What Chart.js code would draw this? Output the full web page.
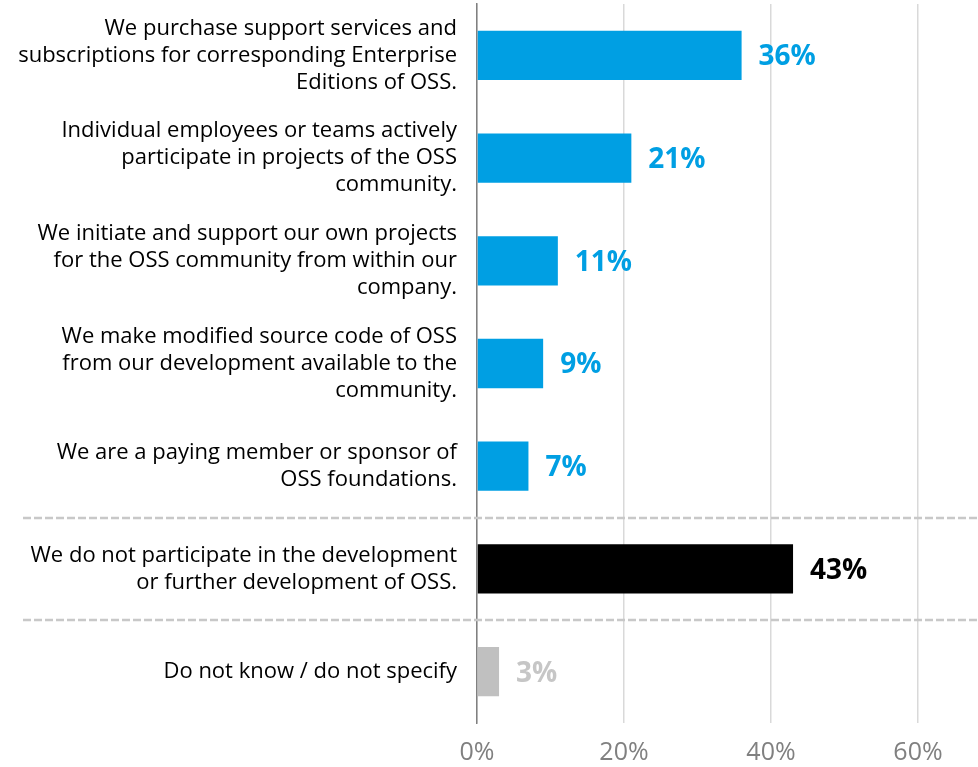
<!DOCTYPE html>
<html lang="en">

<head>
  <meta charset="UTF-8" />
  <title>OSS participation</title>
  <script src="https://cdn.jsdelivr.net/npm/chart.js"></script>
  <style>
    html, body { margin: 0; padding: 0; background: #fff; }
    .grafico { position: relative; width: 978px; height: 767px; }
  </style>
</head>

<body>
  <div class="grafico">
    <canvas id="graficoOss"></canvas>
  </div>

<script>
  // dados
  const categorias = [
    ['We purchase support services and', 'subscriptions for corresponding Enterprise', 'Editions of OSS.'],
    ['Individual employees or teams actively', 'participate in projects of the OSS', 'community.'],
    ['We initiate and support our own projects', 'for the OSS community from within our', 'company.'],
    ['We make modified source code of OSS', 'from our development available to the', 'community.'],
    ['We are a paying member or sponsor of', 'OSS foundations.'],
    ['We do not participate in the development', 'or further development of OSS.'],
    ['Do not know / do not specify']
  ];
  const valores = [36, 21, 11, 9, 7, 43, 3];
  const ticksX = [0, 20, 40, 60];

  // cores por barra
  const coresBarras = ['#009fe3', '#009fe3', '#009fe3', '#009fe3', '#009fe3', '#000000', '#c0c0c0'];
  const coresRotulos = ['#009fe3', '#009fe3', '#009fe3', '#009fe3', '#009fe3', '#000000', '#c6c6c6'];

  const FONTE = "'Open Sans', sans-serif";

  // rótulos de valor à direita das barras
  const rotulosValor = {
    id: 'rotulosValor',
    afterDatasetsDraw(chart) {
      const ctx = chart.ctx;
      const meta = chart.getDatasetMeta(0);
      ctx.save();
      ctx.font = 'bold 28px ' + FONTE;
      ctx.textBaseline = 'middle';
      ctx.textAlign = 'left';
      meta.data.forEach((barra, i) => {
        ctx.fillStyle = coresRotulos[i];
        ctx.fillText(valores[i] + '%', barra.x + 17, barra.y + 2);
      });
      ctx.restore();
    }
  };

  // linhas tracejadas separando os grupos
  const separadores = {
    id: 'separadores',
    afterDraw(chart) {
      const ctx = chart.ctx;
      const y = chart.scales.y;
      const passo = (y.bottom - y.top) / categorias.length;
      ctx.save();
      ctx.strokeStyle = '#c8c8c8';
      ctx.lineWidth = 2.5;
      ctx.setLineDash([8, 3]);
      [5, 6].forEach(k => {
        const py = Math.round(y.top + passo * k);
        ctx.beginPath();
        ctx.moveTo(23, py);
        ctx.lineTo(chart.width, py);
        ctx.stroke();
      });
      ctx.restore();
    }
  };

  const config = {
    type: 'bar',
    data: {
      labels: categorias,
      datasets: [{
        data: valores,
        backgroundColor: coresBarras,
        borderWidth: 0,
        categoryPercentage: 1,
        barPercentage: 0.48
      }]
    },
    options: {
      indexAxis: 'y',
      responsive: true,
      maintainAspectRatio: false,
      animation: false,
      layout: { padding: { top: 4, right: 60, left: 0, bottom: 0 } },
      plugins: {
        legend: { display: false },
        tooltip: { enabled: false }
      },
      scales: {
        x: {
          min: 0,
          max: 60,
          afterBuildTicks(scale) {
            scale.ticks = ticksX.map(v => ({ value: v }));
          },
          afterFit(scale) {
            scale.height = 44;
            scale.paddingLeft = 0;
            scale.paddingRight = 0;
          },
          grid: { color: '#d9d9d9', lineWidth: 1.5, drawTicks: false },
          border: { display: false },
          ticks: {
            padding: 15,
            color: '#808080',
            font: { family: FONTE, size: 25 },
            callback: v => v + '%'
          }
        },
        y: {
          afterFit(scale) {
            scale.width = 477;
            scale.paddingTop = 0;
            scale.paddingBottom = 0;
          },
          grid: { display: false, drawTicks: false },
          border: { color: '#808080', width: 1.5 },
          ticks: {
            padding: 20,
            color: '#000000',
            font: { family: FONTE, size: 22, lineHeight: 1.23 }
          }
        }
      }
    },
    plugins: [rotulosValor, separadores]
  };

  const ctx = document.getElementById('graficoOss').getContext('2d');
  new Chart(ctx, config);
</script>
</body>

</html>
